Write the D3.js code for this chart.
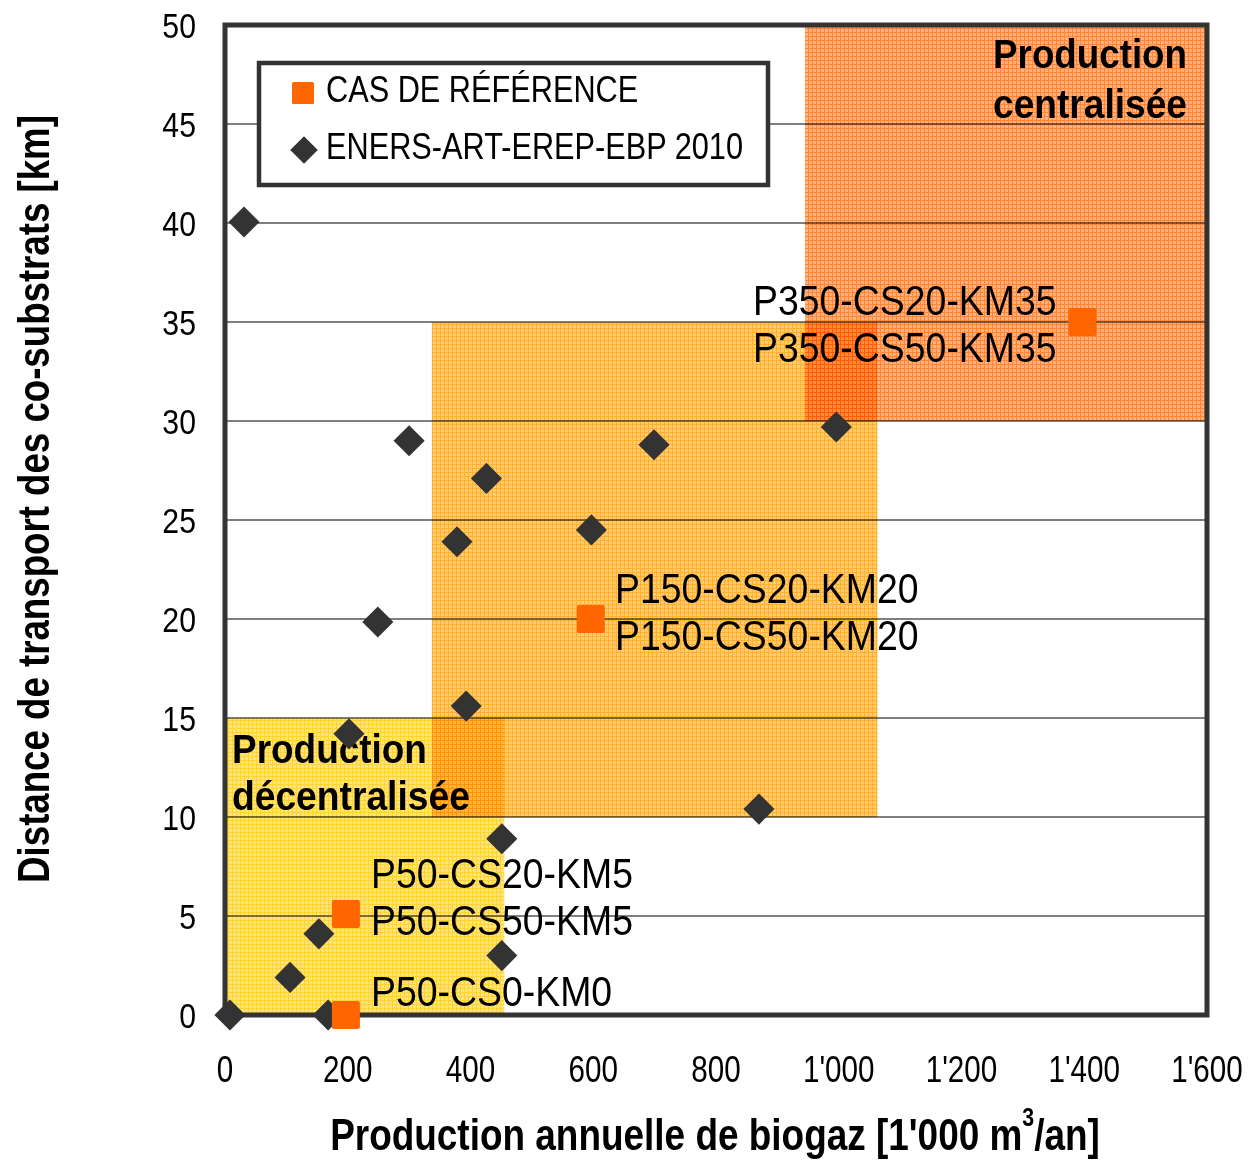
<!DOCTYPE html>
<html><head><meta charset="utf-8">
<script src="https://cdn.jsdelivr.net/npm/d3@7"></script>
<style>html,body{margin:0;padding:0;background:#fff;} svg{display:block;font-family:"Liberation Sans",Arial,sans-serif;}</style>
</head><body>
<svg id="chart" width="1250" height="1162"></svg>
<script>
// ---- data ----
const xTicks = [0,200,400,600,800,1000,1200,1400,1600];
const yTicks = [0,5,10,15,20,25,30,35,40,45,50];
// ENERS-ART-EREP-EBP 2010 installations [production, distance]
const enersX = [8,168,106,153,202,249,31,300,378,393,426,451,451,597,699,870,996];
const enersY = [0,0,1.9,4.1,14.2,19.85,40.05,29.0,23.9,15.6,27.1,8.9,3.0,24.5,28.8,10.4,29.7];
// Reference cases
const refX = [197,197,596,1397];
const refY = [0,5.1,20,35];
const refLabels = [
  ["P50-CS0-KM0"],
  ["P50-CS20-KM5","P50-CS50-KM5"],
  ["P150-CS20-KM20","P150-CS50-KM20"],
  ["P350-CS20-KM35","P350-CS50-KM35"]
];
// Zones [x0,x1,y0,y1]
const zoneNames = ["decentral","medium","central"];
const zoneX0 = [0,337,945];
const zoneX1 = [455,1063,1600];
const zoneY0 = [0,10,30];
const zoneY1 = [15,35,50];
const legendLabels = ["CAS DE RÉFÉRENCE","ENERS-ART-EREP-EBP 2010"];

// ---- setup ----
const svg = d3.select("#chart");
const L = 225, R = 1207, T = 25, B = 1015;
const x = d3.scaleLinear().domain([0,1600]).range([L,R]);
const y = d3.scaleLinear().domain([0,50]).range([B,T]);
const fmt = d3.formatLocale({decimal:".",thousands:"'",grouping:[3],currency:["",""]}).format(",");

function txt(parent, px, py, s, o) {
  const g = parent.append("g");
  const t = g.append("text")
    .attr("text-anchor", o.anchor || "start")
    .attr("font-size", o.size)
    .attr("font-weight", o.weight || "normal")
    .attr("fill", o.fill || "#000")
    .text(s);
  let sx = o.sx || 1;
  if (o.width) { sx = o.width / t.node().getComputedTextLength(); }
  g.attr("transform", `translate(${px},${py}) rotate(${o.rotate||0}) scale(${sx},1)`);
  return t;
}

// patterns
const defs = svg.append("defs");
const zoneBg = ["#ffe47e","#ffcb70","#ffb07e"];
const zoneLine = ["#ffc800","#ffa000","#ff6a00"];
zoneNames.forEach((n,i) => {
  const p = defs.append("pattern").attr("id","pat-"+n)
    .attr("patternUnits","userSpaceOnUse").attr("width",4).attr("height",4);
  p.append("rect").attr("width",4).attr("height",4).attr("fill",zoneBg[i]);
  p.append("rect").attr("x",0).attr("y",0).attr("width",4).attr("height",1).attr("fill",zoneLine[i]).attr("opacity",0.6);
  p.append("rect").attr("x",0).attr("y",1).attr("width",1).attr("height",3).attr("fill",zoneLine[i]).attr("opacity",0.6);
});

// zones
svg.append("g").selectAll("rect").data(zoneNames).join("rect")
  .attr("x",(d,i)=>x(zoneX0[i]))
  .attr("y",(d,i)=>y(zoneY1[i]))
  .attr("width",(d,i)=>x(zoneX1[i])-x(zoneX0[i]))
  .attr("height",(d,i)=>y(zoneY0[i])-y(zoneY1[i]))
  .attr("fill",d=>`url(#pat-${d})`)
  .style("mix-blend-mode","multiply");

// gridlines
svg.append("g").selectAll("line").data(yTicks.filter(v=>v>0&&v<50)).join("line")
  .attr("x1",L).attr("x2",R).attr("y1",d=>y(d)).attr("y2",d=>y(d))
  .attr("stroke","#000").attr("stroke-width",1.1);

// frame
svg.append("rect").attr("x",L).attr("y",T).attr("width",R-L).attr("height",B-T)
  .attr("fill","none").attr("stroke","#333").attr("stroke-width",5);

// tick labels
const gx = svg.append("g");
xTicks.forEach(v => txt(gx, x(v), 1082, fmt(v), {size:37, anchor:"middle", sx:0.8}));
const gy = svg.append("g");
yTicks.forEach(v => txt(gy, 196, y(v)+13, String(v), {size:36, anchor:"end", sx:0.84}));

// axis titles
const xt = txt(svg, 715, 1150, "", {size:45, weight:"bold", anchor:"middle", sx:1});
xt.text(null);
xt.append("tspan").text("Production annuelle de biogaz [1'000 m");
xt.append("tspan").attr("dy",-24).attr("font-size",26).text("3");
xt.append("tspan").attr("dy",24).text("/an]");
{
  const w = xt.node().getComputedTextLength();
  d3.select(xt.node().parentNode).attr("transform",`translate(715,1150) scale(${770/w},1)`);
}
txt(svg, 49, 499, "Distance de transport des co-substrats [km]", {size:45, weight:"bold", anchor:"middle", rotate:-90, width:768});

// zone annotations
txt(svg, 232, 763, "Production", {size:41, weight:"bold", width:195});
txt(svg, 232, 810, "décentralisée", {size:41, weight:"bold", width:238});
txt(svg, 1187, 68, "Production", {size:41, weight:"bold", anchor:"end", width:194});
txt(svg, 1187, 118, "centralisée", {size:41, weight:"bold", anchor:"end", width:194});

// reference labels
const gl = svg.append("g");
const labelPos = [[371,1006],[371,888],[615,603],[753,315]];
refLabels.forEach((lines,i) => {
  lines.forEach((s,j) => txt(gl, labelPos[i][0], labelPos[i][1] + j*47, s, {size:43, sx:0.87}));
});

// legend
const lg = svg.append("g");
lg.append("rect").attr("x",259).attr("y",63).attr("width",509).attr("height",122)
  .attr("fill","#fff").attr("stroke","#333").attr("stroke-width",4.5);
lg.append("rect").attr("x",292).attr("y",82).attr("width",22).attr("height",22).attr("rx",1.5).attr("fill","#ff6600");
lg.append("path").attr("d",d3.symbol(d3.symbolSquare, 380)())
  .attr("transform","translate(304,150) rotate(45)").attr("fill","#333");
txt(lg, 326, 102, legendLabels[0], {size:37, sx:0.83});
txt(lg, 326, 159, legendLabels[1], {size:37, sx:0.83});

// markers
svg.append("g").selectAll("path").data(enersX).join("path")
  .attr("d", d3.symbol(d3.symbolSquare, 484)())
  .attr("transform",(d,i)=>`translate(${x(d)},${y(enersY[i])}) rotate(45)`)
  .attr("fill","#333");
svg.append("g").selectAll("rect").data(refX).join("rect")
  .attr("x",d=>x(d)-14).attr("y",(d,i)=>y(refY[i])-14)
  .attr("width",28).attr("height",28).attr("rx",2)
  .attr("fill","#ff6600");
</script>
</body></html>
